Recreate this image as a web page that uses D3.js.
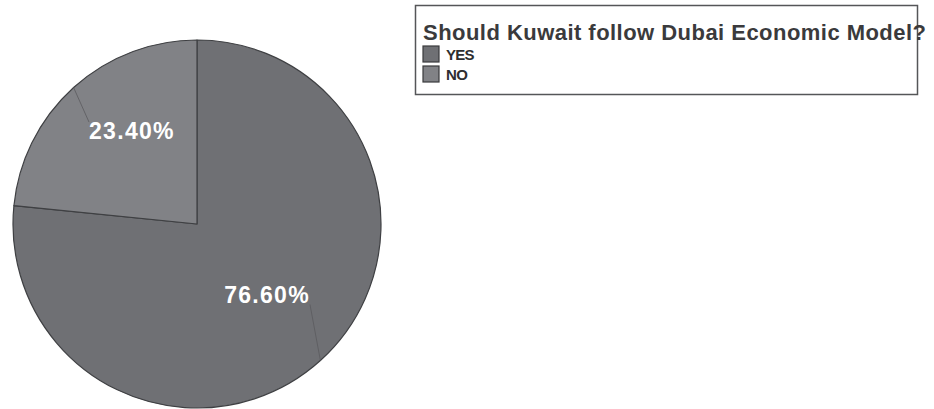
<!DOCTYPE html>
<html>
<head>
<meta charset="utf-8">
<script src="https://cdn.jsdelivr.net/npm/d3@7"></script>
<style>
  html, body { margin: 0; padding: 0; background: #fff; }
  svg { display: block; }
  text { font-family: "Liberation Sans", Arial, sans-serif; }
</style>
</head>
<body>
<svg id="chart" width="934" height="409"></svg>
<script>
// Survey answers
const categories = ["YES", "NO"];
const values = [76.6, 23.4];
const valueLabels = ["76.60%", "23.40%"];
const legendTitle = "Should Kuwait follow Dubai Economic Model?";

const colors = d3.scaleOrdinal().domain(categories).range(["#6f7074", "#818286"]);

const svg = d3.select("#chart");
const cx = 197, cy = 224, radius = 184;

const pie = d3.pie().sort(null).value(d => d.value);
const arcs = pie(categories.map((c, i) => ({ category: c, value: values[i], label: valueLabels[i] })));
const arc = d3.arc().innerRadius(0).outerRadius(radius);

const g = svg.append("g").attr("transform", `translate(${cx},${cy})`);

g.selectAll("path.slice")
  .data(arcs)
  .join("path")
  .attr("class", "slice")
  .attr("d", arc)
  .attr("fill", d => colors(d.data.category))
  .attr("stroke", "#3f4043")
  .attr("stroke-width", 1.2)
  .attr("stroke-linejoin", "round");

// label placement around each slice's centroid
const labelOffset = { YES: [3, -3], NO: [2, -19] };
const labelArc = d3.arc().innerRadius(100).outerRadius(100);

const labels = g.selectAll("g.lbl")
  .data(arcs)
  .join("g")
  .attr("class", "lbl");

labels.each(function(d) {
  const [x0, y0] = labelArc.centroid(d);
  const off = labelOffset[d.data.category];
  const x = x0 + off[0], y = y0 + off[1];
  const t = d3.select(this).append("text")
    .attr("x", x)
    .attr("y", y)
    .attr("dy", "0.36em")
    .attr("text-anchor", "middle")
    .attr("fill", "#ffffff")
    .attr("font-size", 23)
    .attr("font-weight", "bold")
    .attr("letter-spacing", 1.3)
    .text(d.data.label);
  const bb = t.node().getBBox();
  // leader from the slice edge at its mid-angle to the closest label corner
  const mid = (d.startAngle + d.endAngle) / 2;
  const ax = Math.sin(mid) * radius, ay = -Math.cos(mid) * radius;
  const corners = [
    [bb.x, bb.y + 4], [bb.x + bb.width, bb.y + 4],
    [bb.x, bb.y + bb.height - 4], [bb.x + bb.width, bb.y + bb.height - 4]
  ];
  let best = corners[0], bd = Infinity;
  corners.forEach(c => {
    const dd = (c[0] - ax) ** 2 + (c[1] - ay) ** 2;
    if (dd < bd) { bd = dd; best = c; }
  });
  d3.select(this).insert("line", "text")
    .attr("x1", ax).attr("y1", ay)
    .attr("x2", best[0]).attr("y2", best[1])
    .attr("stroke", "#5a5b5e")
    .attr("stroke-width", 0.8);
});

// legend
const legend = svg.append("g").attr("class", "legend");
legend.append("rect")
  .attr("x", 415.5).attr("y", 5.5)
  .attr("width", 502).attr("height", 89)
  .attr("fill", "#fff")
  .attr("stroke", "#555658")
  .attr("stroke-width", 1.5);

legend.append("text")
  .attr("x", 423)
  .attr("y", 40)
  .attr("font-size", 22)
  .attr("font-weight", "bold")
  .attr("fill", "#3a3a3c")
  .attr("textLength", 503)
  .attr("lengthAdjust", "spacing")
  .text(legendTitle);

const items = legend.selectAll("g.item")
  .data(categories)
  .join("g")
  .attr("class", "item")
  .attr("transform", (d, i) => `translate(423,${46 + i * 20})`);

items.append("rect")
  .attr("width", 16).attr("height", 16)
  .attr("fill", d => colors(d))
  .attr("stroke", "#3a3a3c")
  .attr("stroke-width", 1.2);

items.append("text")
  .attr("x", 23)
  .attr("y", 14)
  .attr("font-size", 15)
  .attr("font-weight", "bold")
  .attr("letter-spacing", -0.7)
  .attr("fill", "#2e2e30")
  .text(d => d);
</script>
</body>
</html>
